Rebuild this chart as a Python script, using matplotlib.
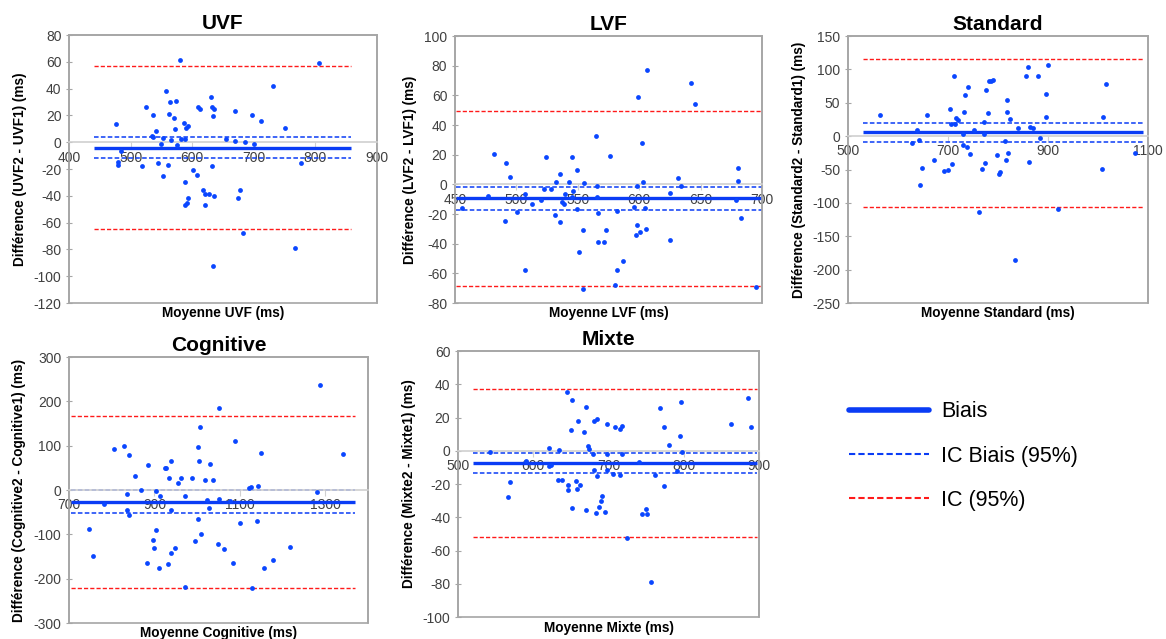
import matplotlib
matplotlib.use("Agg")
import matplotlib.pyplot as plt
from matplotlib.lines import Line2D
from matplotlib.patches import Rectangle

plt.rcParams["font.family"] = ["Liberation Sans", "DejaVu Sans"]
plt.rcParams["axes.unicode_minus"] = False

# ---- data ----
uvf_mean = [477, 525, 536, 535, 537, 541, 549, 553, 558, 564, 563, 566, 573, 571, 572, 575,
            580, 582, 586, 588, 590, 593, 610, 613, 630, 632, 635, 633, 654, 670, 670, 686,
            697, 701, 712, 731, 750, 805, 485, 479, 480, 519, 544, 553, 561, 589, 601, 608,
            593, 592, 589, 618, 621, 627, 621, 636, 632, 677, 674, 683, 634, 767, 776]
uvf_diff = [13.7, 26, 20, 5, 3.7, 8, -1, 3, 38, 30, 20.7, 1.7, 30.6, 17.7, 9.7, -2,
            61.5, 2.5, 14.4, 2.5, 10.5, 12, 26, 25, 33.6, 26.6, 25, 19.7, 2.5, 23, 1, 0.5,
            20, -1, 16, 42, 10.5, 59, -6.7, -15, -17, -17.4, -15.4, -25.4, -17, -29.4, -21, -24.7,
            -42, -45.6, -46.8, -36, -38.6, -38.6, -46.8, -40, -18, -35.4, -41.8, -68, -92.6, -79, -15.4]

lvf_mean = [455.7, 476.8, 481.4, 491.3, 491, 494.8, 500.3, 507, 507, 512.8, 519.7, 522.4, 524,
            527.9, 531.1, 532.2, 535.2, 535.5, 536.9, 538.8, 539.6, 542.6, 545, 545.4, 546.2,
            549.2, 549.7, 551.4, 554.6, 554.6, 555.2, 564.5, 565.3, 565.3, 566.7, 566.1, 571,
            573.2, 576.5, 582, 582, 587, 580, 595.6, 597.5, 598, 598.6, 599, 600.8, 602.2, 603.5,
            604.4, 605.7, 606.3, 625.1, 625.1, 631.7, 633.9, 642.6, 645.4, 679, 680.3, 680.3,
            682.8, 695.4]
lvf_diff = [-15.8, -7.7, 20.7, 14.2, -24.8, 5, -18.5, -6.3, -58, -13, -10.4, -2.9, 18.7,
            -3.4, -20.5, 1.6, -25.7, 7, -11.7, -13.3, -6.5, 1.6, -8.6, 18.7, -4.7,
            9.7, -16.9, -45.5, -31, -70.4, 0.7, 32.4, -1.4, -8.6, -19, -38.7, -39,
            -31, 19.4, -18, -57.5, -52, -68, -15.3, -34, -27.7, -1.1, 59, -32, 28, 1.6,
            -15.8, -30, 77, -6, -37.8, 4.5, -1.4, 68.4, 54.5, -10.8, 11.2, 2.5,
            -23, -68.9]

std_mean = [563, 627, 638, 642, 643, 648, 657, 672, 691, 700, 704, 706, 707, 711, 713, 715,
            719, 729, 730, 731, 733, 737, 739, 744, 751, 761, 768, 771, 772, 773, 775, 780,
            781, 785, 790, 797, 802, 803, 813, 815, 817, 817, 820, 823, 833, 839, 855, 859,
            861, 863, 869, 879, 883, 895, 895, 900, 919, 1007, 1010, 1016, 1073]
std_diff = [32, -10, 9, -6.5, -73.5, -47, 32, -35, -51.5, -50.5, 40.5, 18, -41.5, 90, 17.5, 27.5,
            24, -13.5, 3.5, 36, 61, -15.5, 74, -26, 9, -113, -49.5, 21, 3.5, -40.5, 69, 35,
            82.5, 82.5, 84, -27.5, -57, -53, -7.5, -35.5, 54, 36.5, -25, 25.5, -185, 12, 90.5, 103.5,
            -39, 14, 11.5, 90, -3.5, 63, 28.5, 106.5, -108.5, -49.5, 28.5, 78, -25.5]

cog_mean = [746, 756, 782, 805, 828, 835, 835, 840, 841, 854, 868, 882, 885, 896, 898, 903,
            903, 911, 912, 925, 928, 932, 933, 939, 939, 939, 948, 956, 962, 972, 972, 988,
            996, 1001, 1002, 1005, 1007, 1010, 1019, 1024, 1027, 1031, 1038, 1048, 1052, 1052,
            1062, 1078, 1083, 1088, 1101, 1122, 1125, 1128, 1141, 1142, 1149, 1156, 1178, 1218,
            1281, 1287, 1341]
cog_diff = [-88, -149, -32, 92, 99.5, -10, -44.5, -56, 80, 31, -1, -164, 56, -113, -131, -1.5,
            -90, -175.5, -13, 49, 49, -166.5, 26, 66, -44.5, -142, -131, 16, 26, -13.5, -218, 26,
            -114.5, -65.5, 96, 65.5, 143, -99.5, 22, -22, -40.7, 59.5, 23, -122, -20, 185,
            -134, -25, -164, 110, -74, 4, 6, -221.5, -71, 8, 83, -177, -157, -128,
            -4, 236.5, 82]

mix_mean = [543, 566, 569, 590, 621, 621, 624, 634, 633, 638, 645, 646, 646, 650, 651, 652,
            657, 659, 658, 662, 668, 670, 670, 673, 674, 679, 681, 681, 683, 685, 685, 688,
            690, 692, 696, 698, 698, 698, 706, 709, 715, 715, 718, 718, 725, 740, 745, 750,
            751, 757, 762, 768, 774, 774, 781, 791, 795, 796, 798, 863, 886, 890]
mix_diff = [-1, -27.6, -18.6, -6.2, 1.6, -9.4, -8.8, 0.6, -17.6, -17.6, 35.2, -20.6, -23.4, 12.6, -34.6, 30.6,
            -18.4, 18, -23, -20.6, 11.2, 26.2, -35.8, 3, 1.2, -2.2, 18, -11.6, -37.4, 19, -15.4, -34,
            -30.4, -27, -37, 16, -1.8, -11.4, -14, 14.4, 13.2, -14.4, 14.6, -1.8, -52.6, -6.8, -38.2, -35,
            -38.2, -78.9, -14.6, 25.8, 14.4, -21, 3.4, -12.4, 8.6, 29.2, -1, 16.2, 31.8, 14.2]

# bias, CI of bias (low, high), limits of agreement (low, high), extent of the lines
uvf_stats = dict(bias=-4, ci=(-11.7, 4), loa=(-65, 57), span=(440, 857))
lvf_stats = dict(bias=-9.5, ci=(-17, -2), loa=(-68.4, 49.7), span=(451, 700))
std_stats = dict(bias=5.5, ci=(-9, 19.5), loa=(-105.5, 115.5), span=(530, 1090))
cog_stats = dict(bias=-26, ci=(-51, -1), loa=(-222, 167), span=(704, 1369))
mix_stats = dict(bias=-7.4, ci=(-13.4, -1.6), loa=(-51.9, 37), span=(520, 898))

BLUE = "#0a3cf5"
DOT = "#0a46ff"
RED = "#ff1a1a"
GRAY = "#a6a6a6"
TXT = "#404040"


def panel(rect, title, name, mean, diff, st, xlim, xticks, ylim, yticks, ylab_x, xlab_y):
    ax = fig.add_axes(rect)
    x0, x1 = st["span"]
    ax.hlines(st["loa"], x0, x1, colors=RED, lw=1.0, linestyles=(0, (3, 1.5)), zorder=2)
    ax.hlines(st["ci"], x0, x1, colors=BLUE, lw=1.1, linestyles=(0, (3, 1.5)), zorder=2)
    ax.hlines(st["bias"], x0, x1, colors=BLUE, lw=2.4, zorder=2)
    ax.scatter(mean, diff, s=12, color=DOT, linewidths=0, zorder=4)

    ax.set_xlim(*xlim)
    ax.set_ylim(*ylim)
    ax.set_xticks(xticks)
    ax.set_yticks(yticks)

    ax.spines["bottom"].set_position(("data", 0))
    ax.spines["bottom"].set_color("#d0d0d0")
    ax.spines["bottom"].set_linewidth(1.2)
    for s in ("left", "right", "top"):
        ax.spines[s].set_color(GRAY)
        ax.spines[s].set_linewidth(1.2)
    ax.add_patch(Rectangle((0, 0), 1, 1, transform=ax.transAxes, fill=False,
                           ec=GRAY, lw=1.2, clip_on=False, zorder=1))

    ax.tick_params(axis="y", direction="inout", length=5, color=GRAY,
                   labelsize=10, labelcolor=TXT, pad=3)
    ax.tick_params(axis="x", direction="out", length=4, color="#d0d0d0",
                   labelsize=10, labelcolor=TXT, pad=2)
    for lab in ax.get_xticklabels():
        lab.set_zorder(3)

    ax.set_title(title, fontsize=15, fontweight="bold", pad=4)
    ax.set_xlabel(f"Moyenne {name} (ms)", fontsize=9.8, fontweight="bold")
    ax.set_ylabel(f"Différence ({name}2 - {name}1) (ms)", fontsize=9.8, fontweight="bold")
    ax.xaxis.set_label_coords(0.5, xlab_y)
    ax.yaxis.set_label_coords(ylab_x, 0.5)
    return ax


fig = plt.figure(figsize=(11.66, 6.39), dpi=100)

panel([0.0592, 0.5258, 0.2642, 0.4194], "UVF", "UVF", uvf_mean, uvf_diff, uvf_stats,
      (400, 900), range(400, 901, 100), (-120, 80), range(-120, 81, 20), -0.136, -0.012)
panel([0.3902, 0.5258, 0.2633, 0.4178], "LVF", "LVF", lvf_mean, lvf_diff, lvf_stats,
      (450, 700), range(450, 701, 50), (-80, 100), range(-80, 101, 20), -0.124, -0.012)
panel([0.7273, 0.5258, 0.2573, 0.4178], "Standard", "Standard", std_mean, std_diff, std_stats,
      (500, 1100), range(500, 1101, 200), (-250, 150), range(-250, 151, 50), -0.14, -0.012)
panel([0.0592, 0.0250, 0.2564, 0.4163], "Cognitive", "Cognitive", cog_mean, cog_diff, cog_stats,
      (700, 1400), range(700, 1301, 200), (-300, 300), range(-300, 301, 100), -0.145, -0.012)
panel([0.3928, 0.0344, 0.2581, 0.4163], "Mixte", "Mixte", mix_mean, mix_diff, mix_stats,
      (500, 900), range(500, 901, 100), (-100, 60), range(-100, 61, 20), -0.14, -0.015)

handles = [
    Line2D([], [], color=BLUE, lw=4, solid_capstyle="round"),
    Line2D([], [], color=BLUE, lw=1.5, linestyle=(0, (3, 1.5))),
    Line2D([], [], color=RED, lw=1.5, linestyle=(0, (3, 1.5))),
]
fig.legend(handles, ["Biais", "IC Biais (95%)", "IC (95%)"], loc="upper left",
           bbox_to_anchor=(0.728, 0.372), frameon=False, fontsize=15.5,
           handlelength=3.7, handletextpad=0.6, labelspacing=1.08,
           borderpad=0, borderaxespad=0)

fig.savefig("out.png", dpi=100)
plt.close(fig)
